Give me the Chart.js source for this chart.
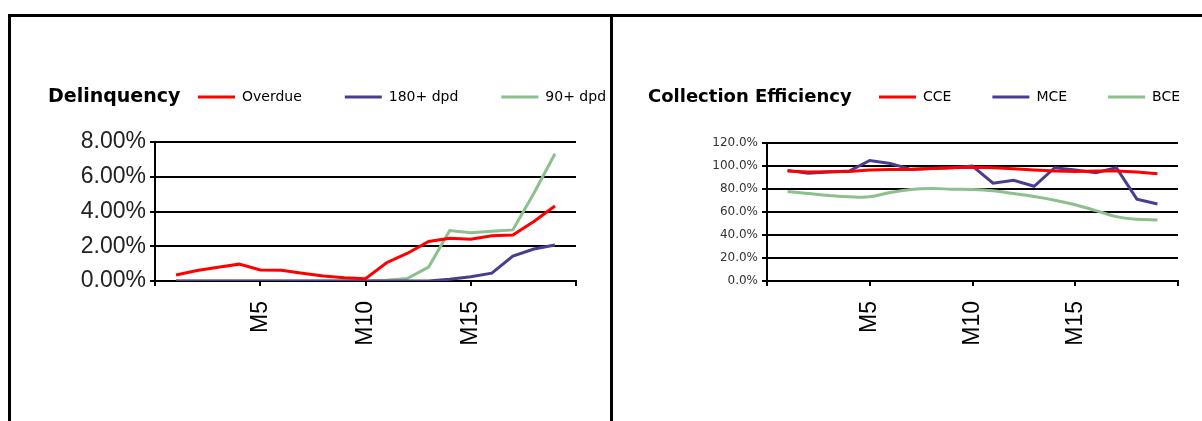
<!DOCTYPE html>
<html lang="en">

<head>
  <meta charset="UTF-8">
  <title>Delinquency | Collection Efficiency</title>
  <script src="https://cdn.jsdelivr.net/npm/chart.js"></script>
  <style>
    html, body { margin: 0; padding: 0; background: #ffffff; }
    body { position: relative; width: 1202px; height: 421px; overflow: hidden; }
    .quadro { position: absolute; top: 0; height: 421px; }
    #ladoEsquerdo { left: 0; width: 610px; }
    #ladoDireito { left: 613px; width: 589px; }
    .borda { position: absolute; background: #000000; }
  </style>
</head>

<body>
  <div class="quadro" id="ladoEsquerdo"><canvas id="graficoDelinquency"></canvas></div>
  <div class="quadro" id="ladoDireito"><canvas id="graficoCollection"></canvas></div>

  <!-- frame lines around the two charts -->
  <div class="borda" style="left:8px;top:14px;width:1194px;height:3px;"></div>
  <div class="borda" style="left:8px;top:14px;width:3px;height:407px;"></div>
  <div class="borda" style="left:610px;top:14px;width:3px;height:407px;"></div>

<script>
  // months on the x axis (M1..M19), axis runs from 0 to 20
  var meses = [1, 2, 3, 4, 5, 6, 7, 8, 9, 10, 11, 12, 13, 14, 15, 16, 17, 18, 19];
  var rotulosX = ['', 'M5', 'M10', 'M15', ''];

  // DELINQUENCY (%)
  var overdue = [0.35, 0.60, 0.79, 0.97, 0.63, 0.62, 0.45, 0.29, 0.19, 0.13, 1.05, 1.60, 2.27, 2.46, 2.40, 2.61, 2.65, 3.42, 4.32];
  var dpd180 = [0, 0, 0, 0, 0, 0, 0, 0, 0, 0, 0, 0, 0, 0.10, 0.25, 0.45, 1.44, 1.84, 2.07];
  var dpd90 = [0, 0, 0, 0, 0, 0, 0, 0, 0, 0, 0.05, 0.15, 0.80, 2.90, 2.78, 2.86, 2.94, 5.05, 7.32];
  var rotulosDelinq = ['0.00%', '2.00%', '4.00%', '6.00%', '8.00%'];

  // COLLECTION EFFICIENCY (%)
  var cce = [95.6, 94.7, 95.0, 95.3, 96.5, 97.0, 97.0, 97.9, 98.5, 99.0, 98.5, 97.6, 96.5, 95.6, 95.3, 95.6, 95.6, 94.7, 93.3];
  var mce = [96.2, 93.6, 94.7, 95.6, 104.8, 102.2, 97.1, 97.9, 98.5, 100.0, 85.0, 87.6, 82.4, 98.5, 96.5, 94.2, 98.5, 71.2, 66.9];
  var bce = [77.8, 76.1, 74.4, 73.2, 73.2, 77.0, 79.5, 80.4, 79.8, 79.5, 78.4, 76.1, 73.5, 70.3, 66.3, 61.2, 56.0, 53.7, 53.1];
  var rotulosColl = ['0.0%', '20.0%', '40.0%', '60.0%', '80.0%', '100.0%', '120.0%'];

  var VERMELHO = '#ff0000';
  var AZUL = '#4b3c8f';
  var VERDE = '#8cc08c';

  function pontos(valores) {
    return valores.map(function (v, i) { return { x: meses[i], y: v }; });
  }

  // title drawn on the same row as the legend, legend moved next to it
  var tituloLegenda = {
    id: 'tituloLegenda',
    afterLayout: function (chart, args, opts) {
      var lg = chart.legend;
      var p = lg.options.labels.padding;
      lg.left = opts.legendaX - p;
      lg.right = chart.width + 300;
      lg.top = opts.linhaY - p;
      lg.bottom = opts.linhaY + 30;
    },
    afterDraw: function (chart, args, opts) {
      var ctx = chart.ctx;
      ctx.save();
      ctx.font = 'bold ' + opts.tamanho + 'px "DejaVu Sans"';
      ctx.fillStyle = '#000000';
      ctx.textBaseline = 'middle';
      ctx.textAlign = 'left';
      ctx.fillText(opts.texto, opts.tituloX, opts.linhaY + 7);
      ctx.restore();
    }
  };

  function eixoX() {
    return {
      type: 'linear',
      min: 0,
      max: 20,
      afterFit: function (scale) {
        scale.height = 140;
        scale.paddingLeft = 0;
        scale.paddingRight = 0;
      },
      ticks: {
        stepSize: 5,
        autoSkip: false,
        minRotation: 90,
        maxRotation: 90,
        padding: 15,
        color: '#000000',
        font: { family: 'Liberation Sans', size: 23 },
        callback: function (value, index) { return rotulosX[index]; }
      },
      grid: { drawOnChartArea: false, drawTicks: true, tickLength: 5, color: '#000000', lineWidth: 2 },
      border: { display: true, color: '#000000', width: 2 }
    };
  }

  function linha(label, valores, cor, tensao) {
    return {
      label: label,
      data: pontos(valores),
      borderColor: cor,
      backgroundColor: cor,
      borderWidth: 3,
      pointRadius: 0,
      fill: false,
      tension: tensao
    };
  }

  function legenda(padding) {
    return {
      display: true,
      position: 'top',
      align: 'start',
      maxHeight: 1,
      labels: {
        usePointStyle: true,
        pointStyle: 'line',
        pointStyleWidth: 37,
        padding: padding,
        color: '#000000',
        font: { family: 'DejaVu Sans', size: 14 }
      }
    };
  }

  // LEFT CHART
  function graficoDelinquency() {
    var ctx = document.getElementById('graficoDelinquency').getContext('2d');
    var config = {
      type: 'line',
      data: {
        datasets: [
          linha('Overdue', overdue, VERMELHO, 0),
          linha('180+ dpd', dpd180, AZUL, 0),
          linha('90+ dpd', dpd90, VERDE, 0)
        ]
      },
      options: {
        responsive: true,
        maintainAspectRatio: false,
        animation: false,
        events: [],
        layout: { padding: { top: 141, right: 34, bottom: 0, left: 0 } },
        scales: {
          x: eixoX(),
          y: {
            min: 0,
            max: 8,
            afterFit: function (scale) { scale.width = 155; },
            ticks: {
              stepSize: 2,
              padding: 4,
              color: '#222222',
              font: { family: 'Liberation Sans', size: 23 },
              callback: function (value, index) { return rotulosDelinq[index]; }
            },
            grid: { color: '#000000', lineWidth: 2, tickLength: 5 },
            border: { display: true, color: '#000000', width: 2 }
          }
        },
        plugins: {
          legend: legenda(43),
          tooltip: { enabled: false },
          tituloLegenda: { texto: 'Delinquency', tamanho: 19, tituloX: 48, legendaX: 198, linhaY: 90 }
        }
      },
      plugins: [tituloLegenda]
    };
    new Chart(ctx, config);
  }

  // RIGHT CHART
  function graficoCollection() {
    var ctx = document.getElementById('graficoCollection').getContext('2d');
    var config = {
      type: 'line',
      data: {
        datasets: [
          linha('CCE', cce, VERMELHO, 0),
          linha('MCE', mce, AZUL, 0),
          linha('BCE', bce, VERDE, 0.4)
        ]
      },
      options: {
        responsive: true,
        maintainAspectRatio: false,
        animation: false,
        events: [],
        layout: { padding: { top: 142, right: 24, bottom: 0, left: 0 } },
        scales: {
          x: eixoX(),
          y: {
            min: 0,
            max: 120,
            afterFit: function (scale) { scale.width = 154; },
            ticks: {
              stepSize: 20,
              padding: 4,
              color: '#333333',
              font: { family: 'DejaVu Sans', size: 12 },
              callback: function (value, index) { return rotulosColl[index]; }
            },
            grid: { color: '#000000', lineWidth: 2, tickLength: 5 },
            border: { display: true, color: '#000000', width: 2 }
          }
        },
        plugins: {
          legend: legenda(41),
          tooltip: { enabled: false },
          tituloLegenda: { texto: 'Collection Efficiency', tamanho: 18, tituloX: 35, legendaX: 266, linhaY: 90 }
        }
      },
      plugins: [tituloLegenda]
    };
    new Chart(ctx, config);
  }

  graficoDelinquency();
  graficoCollection();
</script>
</body>

</html>
